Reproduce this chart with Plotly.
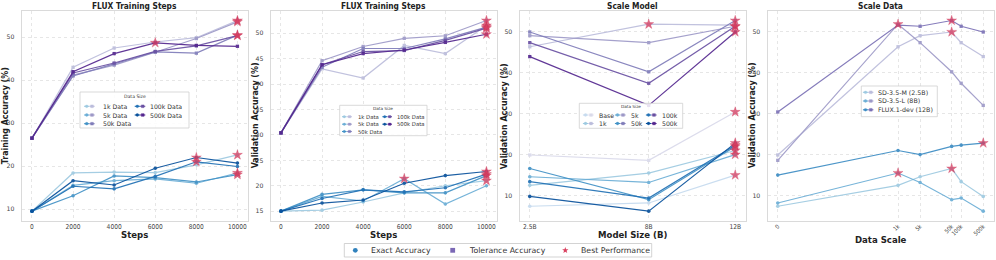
import math
import plotly.graph_objects as go

W, H = 996, 260

# ---------------- data ----------------
steps = [0, 2000, 4000, 6000, 8000, 10000]
size_names = ["1k", "5k", "50k", "100k", "500k"]

# Panel 1 - FLUX training steps, training accuracy
train_exact_1k = [9.5, 18.4, 18.6, 18.5, 20.3, 22.6]
train_exact_5k = [9.5, 15.5, 16.6, 17.0, 16.0, 18.4]
train_exact_50k = [9.5, 13.1, 17.7, 17.3, 16.3, 18.0]
train_exact_100k = [9.5, 15.3, 14.7, 17.6, 21.0, 19.9]
train_exact_500k = [9.5, 16.6, 15.6, 19.5, 22.0, 20.7]
train_tol_1k = [26.5, 43.0, 47.5, 48.9, 49.9, 53.9]
train_tol_5k = [26.5, 41.2, 43.5, 46.5, 49.7, 53.6]
train_tol_50k = [26.5, 41.0, 43.8, 46.6, 46.3, 50.5]
train_tol_100k = [26.5, 41.7, 44.0, 46.7, 48.0, 50.4]
train_tol_500k = [26.5, 42.0, 46.2, 48.7, 48.1, 47.9]

# Panel 2 - FLUX training steps, validation accuracy
val_exact_1k = [15.0, 15.2, 16.8, 18.6, 20.0, 21.0]
val_exact_5k = [15.0, 17.9, 17.0, 21.4, 16.4, 20.0]
val_exact_50k = [15.0, 18.3, 19.2, 18.6, 18.6, 22.0]
val_exact_100k = [15.0, 17.5, 19.2, 18.8, 19.6, 22.3]
val_exact_500k = [15.0, 16.6, 17.2, 20.5, 22.0, 22.8]
val_tol_1k = [30.4, 43.0, 41.2, 47.6, 46.0, 51.5]
val_tol_5k = [30.4, 44.6, 47.4, 49.0, 49.5, 52.5]
val_tol_50k = [30.4, 43.3, 47.0, 47.0, 48.9, 51.2]
val_tol_100k = [30.4, 43.8, 46.4, 46.6, 48.6, 51.0]
val_tol_500k = [30.4, 43.8, 46.0, 46.7, 48.2, 49.8]

# Panels 3/4 - model scale x data scale (validation accuracy)
model_sizes = [2.5, 8, 12]
model_tick_labels = ["2.5B", "8B", "12B"]
model_names = ["SD-3.5-M (2.5B)", "SD-3.5-L (8B)", "FLUX.1-dev (12B)"]
scale_names = ["Base", "1k", "5k", "50k", "100k", "500k"]
data_scale_values = [0, 1000, 5000, 50000, 100000, 500000]
data_scale_labels = ["0", "1k", "5k", "50k", "100k", "500k"]

sd35m_exact = [7.4, 12.5, 14.6, 16.6, 13.4, 9.8]
sd35l_exact = [8.2, 15.5, 13.2, 9.0, 9.4, 6.2]
flux_exact = [15.0, 21.0, 20.0, 22.0, 22.3, 22.8]
sd35m_tol = [19.9, 46.3, 49.0, 49.9, 47.3, 43.9]
sd35l_tol = [18.6, 51.8, 47.3, 40.2, 37.4, 32.0]
flux_tol = [30.4, 51.6, 51.3, 52.7, 51.3, 49.9]

# ---------------- style ----------------
BLUES5 = ["#9ecae1", "#6baed6", "#4292c6", "#2171b5", "#08519c"]
PURPLES5 = ["#bcbddc", "#9e9ac8", "#807dba", "#6a51a3", "#54278f"]
BLUES6 = ["#c6dbef"] + BLUES5
PURPLES6 = ["#dadaeb"] + PURPLES5
BLUES3 = ["#9ecae1", "#6baed6", "#3d8dc4"]
PURPLES3 = ["#bcbddc", "#9e9ac8", "#7b71b6"]
STAR = "rgba(216,62,96,0.75)"
GRID = "#e6e6e6"
FRAME = "#dadada"
COND = "Liberation Sans Narrow, DejaVu Sans Condensed, Arial Narrow, sans-serif"
REG = "DejaVu Sans, sans-serif"

LEFTS = [21.7, 270.7, 519.5, 767.5]
PW = 226.0
TOP, BOT = 11.0, 220.7


def X(px):
    return px / W


def Y(py):
    return 1 - py / H


def padded(vals, frac=0.05):
    lo, hi = min(vals), max(vals)
    s = hi - lo
    return [lo - frac * s, hi + frac * s]


def symlog(v, linthresh=2.0):
    c = 1.0 / (1.0 - 1.0 / 10.0)
    if abs(v) <= linthresh:
        return v * c
    return math.copysign(linthresh * (c + math.log10(abs(v) / linthresh)), v)


fig = go.Figure()


def add_series(i, xs, ys, color, symbol):
    xa = "x" if i == 1 else f"x{i}"
    ya = "y" if i == 1 else f"y{i}"
    fig.add_trace(go.Scatter(
        x=xs, y=ys, mode="lines+markers", xaxis=xa, yaxis=ya,
        line=dict(color=color, width=1.2), opacity=0.92,
        marker=dict(symbol=symbol, size=3.6 if symbol == "circle" else 3.3, color=color),
        showlegend=False, hoverinfo="skip"))


def add_stars(i, series_list, xs):
    xa = "x" if i == 1 else f"x{i}"
    ya = "y" if i == 1 else f"y{i}"
    sx, sy = [], []
    for ys in series_list:
        k = max(range(len(ys)), key=lambda j: ys[j])
        sx.append(xs[k])
        sy.append(ys[k])
    fig.add_trace(go.Scatter(
        x=sx, y=sy, mode="markers", xaxis=xa, yaxis=ya,
        marker=dict(symbol="star", size=7.5, color=STAR, line=dict(width=0.3, color="rgba(200,40,80,0.9)")),
        showlegend=False, hoverinfo="skip"))


# Panel 1
p1_exact = [train_exact_1k, train_exact_5k, train_exact_50k, train_exact_100k, train_exact_500k]
p1_tol = [train_tol_1k, train_tol_5k, train_tol_50k, train_tol_100k, train_tol_500k]
for k in range(5):
    add_series(1, steps, p1_exact[k], BLUES5[k], "circle")
for k in range(5):
    add_series(1, steps, p1_tol[k], PURPLES5[k], "square")
add_stars(1, p1_exact + p1_tol, steps)

# Panel 2
p2_exact = [val_exact_1k, val_exact_5k, val_exact_50k, val_exact_100k, val_exact_500k]
p2_tol = [val_tol_1k, val_tol_5k, val_tol_50k, val_tol_100k, val_tol_500k]
for k in range(5):
    add_series(2, steps, p2_exact[k], BLUES5[k], "circle")
for k in range(5):
    add_series(2, steps, p2_tol[k], PURPLES5[k], "square")
add_stars(2, p2_exact + p2_tol, steps)

# Panel 3 (model scale): rows = data scale, columns = model
by_model_exact = [sd35m_exact, sd35l_exact, flux_exact]
by_model_tol = [sd35m_tol, sd35l_tol, flux_tol]
p3_exact = [[m[j] for m in by_model_exact] for j in range(len(scale_names))]
p3_tol = [[m[j] for m in by_model_tol] for j in range(len(scale_names))]
for k in range(6):
    add_series(3, model_sizes, p3_exact[k], BLUES6[k], "circle")
for k in range(6):
    add_series(3, model_sizes, p3_tol[k], PURPLES6[k], "square")
add_stars(3, p3_exact + p3_tol, model_sizes)

# Panel 4 (data scale)
scale_pos = [symlog(v) for v in data_scale_values]
for k in range(3):
    add_series(4, scale_pos, by_model_exact[k], BLUES3[k], "circle")
for k in range(3):
    add_series(4, scale_pos, by_model_tol[k], PURPLES3[k], "square")
add_stars(4, by_model_exact + by_model_tol, scale_pos)

# ---------------- axes ----------------
x_ranges = [padded(steps), padded(steps), padded(model_sizes), padded(scale_pos)]
y_ranges = [padded([v for s in p1_exact + p1_tol for v in s]),
            padded([v for s in p2_exact + p2_tol for v in s]),
            padded([v for s in p3_exact + p3_tol for v in s]),
            padded([v for s in by_model_exact + by_model_tol for v in s])]
x_ticks = [(steps, [str(s) for s in steps]), (steps, [str(s) for s in steps]),
           (model_sizes, model_tick_labels), (scale_pos, data_scale_labels)]
y_ticks = [[10, 20, 30, 40, 50], [15, 20, 25, 30, 35, 40, 45, 50],
           [10, 20, 30, 40, 50], [10, 20, 30, 40, 50]]

layout = {}
for i in range(4):
    sfx = "" if i == 0 else str(i + 1)
    L = LEFTS[i]
    layout["xaxis" + sfx] = dict(
        domain=[X(L), X(L + PW)], range=x_ranges[i], anchor="y" + sfx,
        tickvals=x_ticks[i][0], ticktext=x_ticks[i][1],
        tickangle=-45 if i == 3 else 0,
        tickfont=dict(family=COND, size=5.8 if i == 3 else 6.6, color="#444"),
        showgrid=True, gridcolor=GRID, griddash="dot", gridwidth=1, zeroline=False,
        showline=True, mirror=True, linecolor=FRAME, linewidth=1,
        ticks="", ticklabelstandoff=-1)
    layout["yaxis" + sfx] = dict(
        domain=[Y(BOT), Y(TOP)], range=y_ranges[i], anchor="x" + sfx,
        tickvals=y_ticks[i], tickfont=dict(family=REG, size=6.2, color="#444"),
        showgrid=True, gridcolor=GRID, griddash="dot", gridwidth=1, zeroline=False,
        showline=True, mirror=True, linecolor=FRAME, linewidth=1,
        ticks="outside", ticklen=5, tickcolor="rgba(0,0,0,0)")

annotations = []
shapes = []
titles = ["FLUX Training Steps", "FLUX Training Steps", "Scale Model", "Scale Data"]
xlabels = ["Steps", "Steps", "Model Size (B)", "Data Scale"]
xlabel_y = [234.3, 234.3, 234.3, 239.0]
ylabels = ["Training Accuracy (%)", "Validation Accuracy (%)", "Validation Accuracy (%)",
           "Validation Accuracy (%)"]
ylabel_x = [5.3, 254.5, 503.5, 751.5]
for i in range(4):
    cx = LEFTS[i] + PW / 2
    annotations.append(dict(text="<b>" + titles[i] + "</b>", x=X(cx), y=Y(5.8), xref="paper", yref="paper",
                            showarrow=False, font=dict(family=COND, size=8.3, color="#222"),
                            xanchor="center", yanchor="middle"))
    annotations.append(dict(text="<b>" + xlabels[i] + "</b>", x=X(cx), y=Y(xlabel_y[i]), xref="paper",
                            yref="paper", showarrow=False, font=dict(family=COND, size=9.5, color="#222"),
                            xanchor="center", yanchor="middle"))
    annotations.append(dict(text="<b>" + ylabels[i] + "</b>", x=X(ylabel_x[i]), y=Y((TOP + BOT) / 2),
                            xref="paper", yref="paper", showarrow=False, textangle=-90,
                            font=dict(family=COND, size=8.8, color="#222"),
                            xanchor="center", yanchor="middle"))


def box(x0, y0, x1, y1, fill="rgba(255,255,255,0.85)", line="#cfcfcf"):
    shapes.append(dict(type="rect", xref="paper", yref="paper", x0=X(x0), x1=X(x1), y0=Y(y1), y1=Y(y0),
                       fillcolor=fill, line=dict(color=line, width=0.8), layer="above"))


def handle(cx, cy, color, symbol, half=2.6, r=1.4):
    shapes.append(dict(type="line", xref="paper", yref="paper", x0=X(cx - half), x1=X(cx + half),
                       y0=Y(cy), y1=Y(cy), line=dict(color=color, width=1.1), layer="above"))
    shapes.append(dict(type="circle" if symbol == "circle" else "rect", xref="paper", yref="paper",
                       x0=X(cx - r), x1=X(cx + r), y0=Y(cy + r), y1=Y(cy - r),
                       fillcolor=color, line=dict(color=color, width=0.3), layer="above"))


def text(s, x, y, size, anchor="left", family=REG, color="#333"):
    annotations.append(dict(text=s, x=X(x), y=Y(y), xref="paper", yref="paper", showarrow=False,
                            font=dict(family=family, size=size, color=color),
                            xanchor=anchor, yanchor="middle"))


# Panel 1 legend
box(80, 92, 189, 128)
text("Data Size", 134.5, 96.8, 4.6, "center")
p1_cols = [(86.7, 92.0, 100.5), (137.3, 142.7, 148.3)]
p1_rows = [106.3, 115.0, 123.7]
for k, nm in enumerate(size_names):
    col, row = (0, k) if k < 3 else (1, k - 3)
    bx, pxx, tx = p1_cols[col]
    handle(bx, p1_rows[row], BLUES5[k], "circle")
    handle(pxx, p1_rows[row], PURPLES5[k], "square")
    text(nm + " Data", tx, p1_rows[row], 6.2)

# Panel 2 legend
box(339.7, 105.3, 427, 135.7)
text("Data Size", 383.4, 108.6, 4.2, "center")
p2_cols = [(344.3, 349.5, 355.5), (384.7, 389.7, 394.7)]
p2_rows = [116.7, 124.2, 131.5]
for k, nm in enumerate(size_names):
    col, row = (0, k) if k < 3 else (1, k - 3)
    bx, pxx, tx = p2_cols[col]
    handle(bx, p2_rows[row], BLUES5[k], "circle", half=2.3, r=1.2)
    handle(pxx, p2_rows[row], PURPLES5[k], "square", half=2.3, r=1.2)
    text(nm + " Data", tx, p2_rows[row], 5.3)

# Panel 3 legend
box(579.3, 103.3, 682.7, 128.3)
text("Data Size", 631, 106.4, 4.2, "center")
p3_cols = [(585.5, 591.0, 597.0), (617.5, 623.0, 629.0), (648.5, 654.0, 660.0)]
p3_rows = [115.0, 123.5]
for k, nm in enumerate(scale_names):
    col, row = k // 2, k % 2
    bx, pxx, tx = p3_cols[col]
    handle(bx, p3_rows[row], BLUES6[k], "circle")
    handle(pxx, p3_rows[row], PURPLES6[k], "square")
    text(nm, tx, p3_rows[row], 6.2)

# Panel 4 legend
box(861.3, 86.0, 937.3, 116.7)
p4_rows = [92.3, 101.0, 109.8]
for k, nm in enumerate(model_names):
    handle(865.5, p4_rows[k], BLUES3[k], "circle")
    handle(870.8, p4_rows[k], PURPLES3[k], "square")
    text(nm, 875.5, p4_rows[k], 6.3)


# Bottom legend
def star_path(cx, cy, R, r):
    pts = []
    for k in range(10):
        ang = -math.pi / 2 + k * math.pi / 5
        rad = R if k % 2 == 0 else r
        pts.append((cx + rad * math.cos(ang), cy + rad * math.sin(ang)))
    return "M " + " L ".join(f"{X(a):.6f},{Y(b):.6f}" for a, b in pts) + " Z"


box(344.3, 243.5, 651.7, 257.0, fill="white", line="#c8c8c8")
ly = 250.3
shapes.append(dict(type="circle", xref="paper", yref="paper", x0=X(355.3 - 2.4), x1=X(355.3 + 2.4),
                   y0=Y(ly + 2.4), y1=Y(ly - 2.4), fillcolor="#3182bd", line=dict(width=0), layer="above"))
text("Exact Accuracy", 369.3, ly, 7.8)
shapes.append(dict(type="rect", xref="paper", yref="paper", x0=X(452.7 - 2.4), x1=X(452.7 + 2.4),
                   y0=Y(ly + 2.4), y1=Y(ly - 2.4), fillcolor="#7b68b5", line=dict(width=0), layer="above"))
text("Tolerance Accuracy", 466.7, ly, 7.8)
shapes.append(dict(type="path", xref="paper", yref="paper", path=star_path(565.3, ly, 3.3, 1.35),
                   fillcolor="#d9405f", line=dict(width=0), layer="above"))
text("Best Performance", 579.3, ly, 7.8)

fig.update_layout(
    width=W, height=H, margin=dict(l=0, r=0, t=0, b=0),
    paper_bgcolor="white", plot_bgcolor="white", showlegend=False,
    annotations=annotations, shapes=shapes, **layout)

fig.write_html("out.html", config={"displayModeBar": False},
               post_script="document.body.style.margin='0';document.body.style.overflow='hidden';")
